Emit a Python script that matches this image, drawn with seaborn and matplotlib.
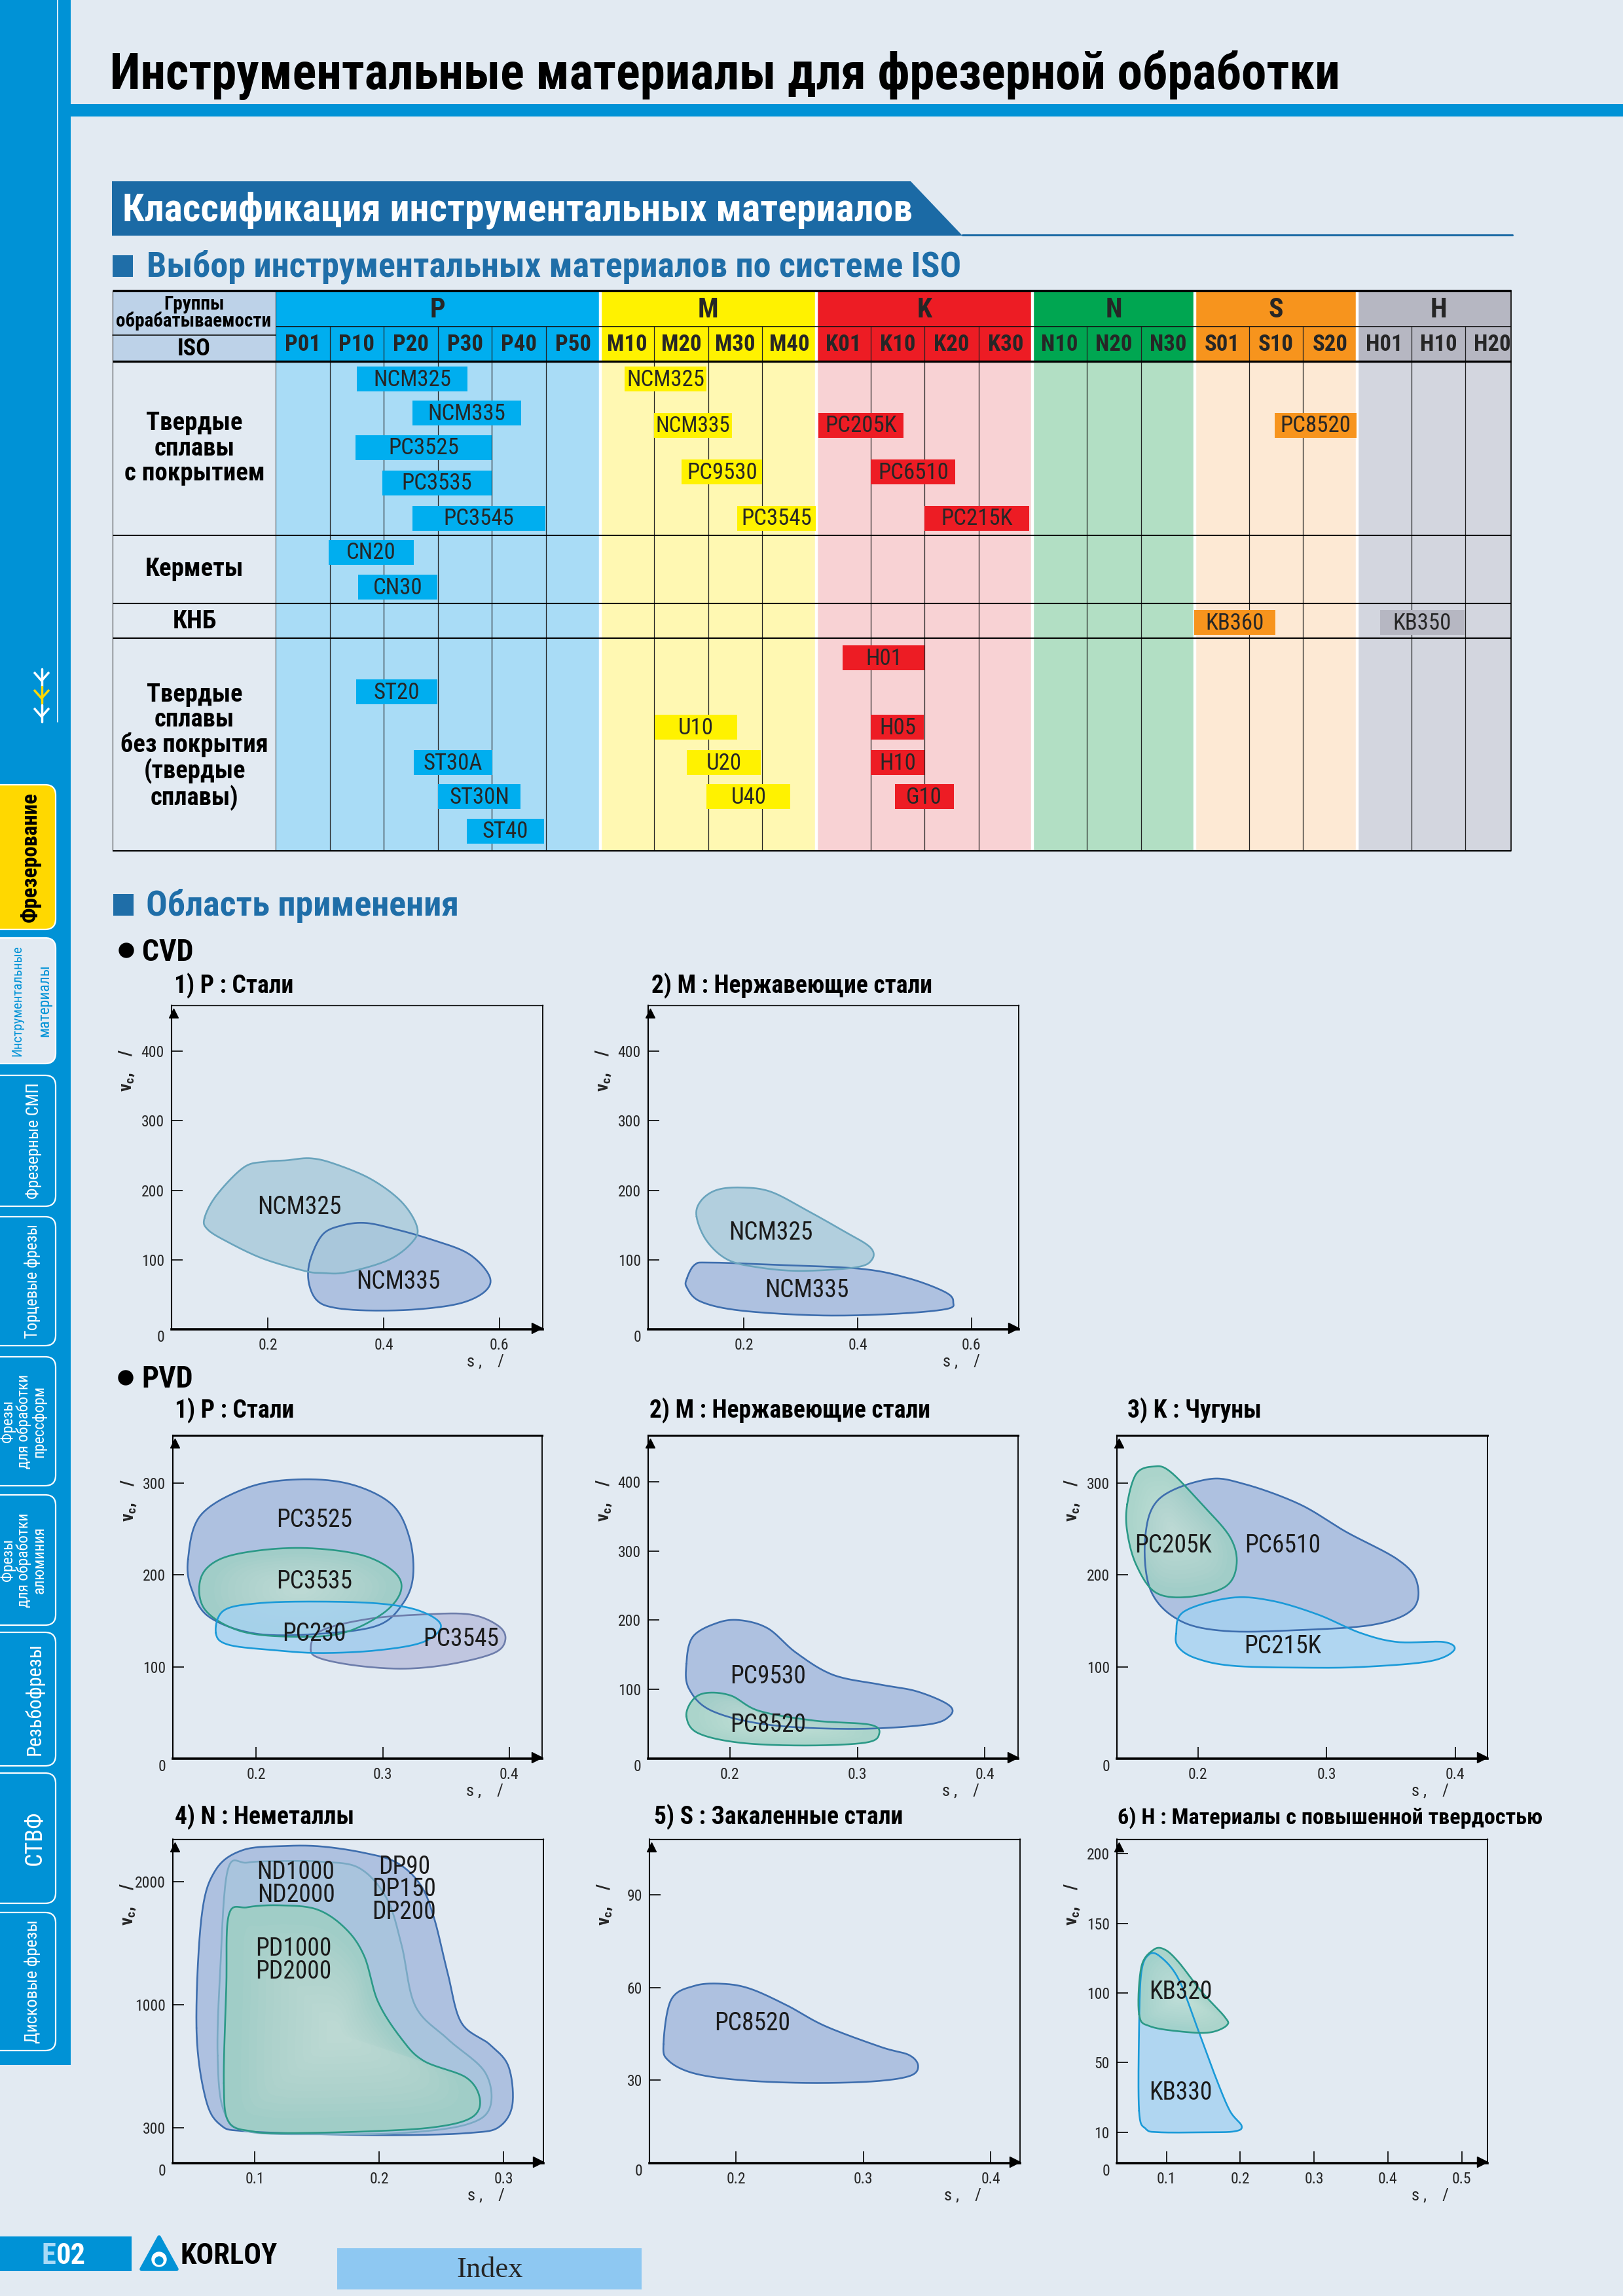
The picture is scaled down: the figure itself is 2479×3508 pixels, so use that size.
import numpy as np
import matplotlib
matplotlib.use("Agg")
import matplotlib.pyplot as plt
from matplotlib.patches import Rectangle, Polygon, FancyBboxPatch, Circle
import seaborn as sns

W, H = 2479, 3508
BG = "#e2eaf2"
SIDE = "#0092d6"
DARKBLUE = "#1b6aa5"
HEADBLUE = "#1f6ea8"

sns.set_theme(style="white")
plt.rcParams['font.family'] = ['Roboto Condensed', 'DejaVu Sans']
plt.rcParams['font.stretch'] = 'condensed'
plt.rcParams['mathtext.default'] = 'regular'

# ---------------- table data ----------------
groups = ["P", "M", "K", "N", "S", "H"]
group_sizes = [6, 4, 4, 3, 3, 3]
iso_codes = ["P01", "P10", "P20", "P30", "P40", "P50", "M10", "M20", "M30", "M40",
             "K01", "K10", "K20", "K30", "N10", "N20", "N30", "S01", "S10", "S20",
             "H01", "H10", "H20"]
group_head = {"P": "#00aeef", "M": "#fff200", "K": "#ed1c24", "N": "#00a651",
              "S": "#f7941d", "H": "#b6b7c2"}
group_body = {"P": "#a9dcf6", "M": "#fff8b2", "K": "#f8d2d4", "N": "#b2dfc4",
              "S": "#fde9d4", "H": "#d3d6df"}
row_labels = ["Твердые\nсплавы\nс покрытием", "Керметы", "КНБ",
              "Твердые\nсплавы\nбез покрытия\n(твердые\nсплавы)"]

# grade bars: name, group colour, start / end in ISO columns, lane (px below table top)
grade_names = ["NCM325", "NCM335", "PC3525", "PC3535", "PC3545",
               "NCM325", "NCM335", "PC9530", "PC3545",
               "PC205K", "PC6510", "PC215K", "PC8520",
               "CN20", "CN30", "KB360", "KB350",
               "ST20", "ST30A", "ST30N", "ST40", "U10", "U20", "U40",
               "H01", "H05", "H10", "G10"]
grade_group = ["P", "P", "P", "P", "P",
               "M", "M", "M", "M",
               "K", "K", "K", "S",
               "P", "P", "S", "H",
               "P", "P", "P", "P", "M", "M", "M",
               "K", "K", "K", "K"]
grade_start = [1.50, 2.53, 1.48, 1.97, 2.53,
               6.45, 7.00, 7.51, 8.54,
               10.04, 11.01, 12.00, 18.47,
               0.98, 1.53, 16.99, 20.42,
               1.49, 2.55, 3.00, 3.54, 7.01, 7.60, 7.97,
               10.49, 11.01, 11.01, 11.45]
grade_end = [3.55, 4.54, 4.00, 4.00, 4.99,
             7.97, 8.44, 9.00, 9.99,
             11.61, 12.57, 13.94, 19.99,
             2.55, 2.99, 18.49, 21.98,
             2.99, 4.01, 4.53, 4.96, 8.54, 8.97, 9.52,
             12.00, 11.99, 12.00, 12.54]
grade_lane = [135, 187, 240, 294, 348,
              135, 206, 277, 348,
              206, 277, 348, 206,
              400, 453, 507, 507,
              613, 721, 773, 826, 667, 721, 773,
              561, 667, 721, 773]

# ---------------- application areas (feed s, speed v) ----------------
cvd_p_ncm325_s = [0.090, 0.111, 0.158, 0.195, 0.231, 0.273, 0.315, 0.378, 0.430, 0.457,
                  0.451, 0.409, 0.336, 0.294, 0.263, 0.190, 0.127, 0.095]
cvd_p_ncm325_v = [160, 193, 233, 241, 243, 246, 238, 216, 184, 149, 127, 100, 82, 81, 84, 102, 127, 144]
cvd_p_ncm335_s = [0.273, 0.294, 0.326, 0.368, 0.420, 0.483, 0.546, 0.582, 0.577, 0.535,
                  0.462, 0.378, 0.315, 0.284, 0.270]
cvd_p_ncm335_v = [100, 136, 149, 153, 144, 129, 109, 78, 56, 38, 29, 27, 31, 42, 69]

cvd_m_ncm325_s = [0.117, 0.124, 0.151, 0.194, 0.247, 0.311, 0.374, 0.422, 0.425, 0.396,
                  0.300, 0.226, 0.172, 0.135]
cvd_m_ncm325_v = [162, 184, 200, 204, 198, 171, 142, 118, 100, 89, 84, 89, 100, 127]
cvd_m_ncm335_s = [0.100, 0.114, 0.140, 0.247, 0.406, 0.491, 0.555, 0.568, 0.555, 0.460,
                  0.332, 0.194, 0.124, 0.100]
cvd_m_ncm335_v = [73, 93, 96, 93, 87, 73, 53, 39, 29, 22, 20, 27, 40, 60]

pvd_p_pc3525_s = [0.146, 0.156, 0.193, 0.233, 0.274, 0.307, 0.321, 0.324, 0.316, 0.296,
                  0.251, 0.200, 0.163, 0.149]
pvd_p_pc3525_v = [217, 265, 295, 304, 299, 277, 241, 199, 169, 145, 136, 136, 154, 184]
pvd_p_pc3535_s = [0.156, 0.171, 0.204, 0.244, 0.285, 0.310, 0.314, 0.299, 0.266, 0.222, 0.185, 0.159]
pvd_p_pc3535_v = [196, 217, 227, 229, 221, 202, 181, 157, 136, 133, 140, 163]
pvd_p_pc230_s = [0.168, 0.174, 0.200, 0.244, 0.296, 0.329, 0.346, 0.332, 0.296, 0.251, 0.215, 0.178]
pvd_p_pc230_v = [137, 161, 169, 171, 169, 161, 145, 127, 118, 115, 118, 124]
pvd_p_pc3545_s = [0.243, 0.251, 0.288, 0.332, 0.369, 0.391, 0.397, 0.388, 0.354, 0.318, 0.281, 0.251]
pvd_p_pc3545_v = [119, 139, 152, 157, 157, 145, 130, 115, 103, 98, 101, 109]

pvd_m_pc9530_s = [0.166, 0.171, 0.190, 0.208, 0.230, 0.252, 0.281, 0.318, 0.347, 0.372,
                  0.372, 0.354, 0.296, 0.230, 0.186, 0.168]
pvd_m_pc9530_v = [137, 176, 196, 200, 188, 153, 121, 107, 97, 77, 61, 49, 43, 49, 69, 101]
pvd_m_pc8520_s = [0.166, 0.171, 0.182, 0.201, 0.223, 0.266, 0.310, 0.317, 0.306, 0.259, 0.208, 0.175]
pvd_m_pc8520_v = [61, 85, 95, 91, 69, 55, 49, 35, 23, 19, 23, 37]

pvd_k_pc6510_s = [0.159, 0.170, 0.207, 0.236, 0.279, 0.315, 0.355, 0.370, 0.367, 0.337,
                  0.279, 0.221, 0.185, 0.163]
pvd_k_pc6510_v = [241, 283, 304, 299, 277, 247, 217, 193, 163, 146, 140, 139, 151, 184]
pvd_k_pc205k_s = [0.145, 0.152, 0.165, 0.178, 0.203, 0.225, 0.230, 0.221, 0.192, 0.167, 0.152, 0.145]
pvd_k_pc205k_v = [277, 310, 318, 313, 277, 241, 211, 187, 176, 181, 211, 247]
pvd_k_pc215k_s = [0.183, 0.189, 0.225, 0.257, 0.293, 0.326, 0.355, 0.391, 0.399, 0.380,
                  0.330, 0.286, 0.228, 0.199, 0.185]
pvd_k_pc215k_v = [136, 160, 175, 172, 157, 137, 127, 127, 118, 106, 100, 99, 101, 109, 121]

pvd_n_dp_s = [0.053, 0.057, 0.068, 0.090, 0.124, 0.154, 0.188, 0.214, 0.233, 0.244, 0.255,
              0.266, 0.289, 0.304, 0.307, 0.296, 0.274, 0.229, 0.176, 0.094, 0.072, 0.060]
pvd_n_dp_v = [867, 1708, 2090, 2258, 2292, 2288, 2236, 2157, 1978, 1708, 1258,
              898, 773, 648, 430, 305, 260, 241, 243, 272, 320, 477]
pvd_n_nd_s = [0.070, 0.072, 0.078, 0.094, 0.124, 0.154, 0.184, 0.206, 0.218, 0.229, 0.255,
              0.285, 0.289, 0.270, 0.221, 0.161, 0.094, 0.075]
pvd_n_nd_v = [711, 1258, 2090, 2157, 2169, 2164, 2112, 1865, 1483, 992, 805,
              617, 417, 320, 260, 248, 272, 398]
pvd_n_pd_s = [0.075, 0.077, 0.079, 0.094, 0.120, 0.150, 0.173, 0.188, 0.199, 0.218, 0.236,
              0.270, 0.281, 0.274, 0.244, 0.191, 0.124, 0.098, 0.079]
pvd_n_pd_v = [555, 1146, 1730, 1793, 1809, 1775, 1618, 1393, 1023, 805, 680,
              586, 461, 359, 305, 272, 257, 272, 334]

pvd_s_pc8520_s = [0.143, 0.149, 0.167, 0.189, 0.211, 0.240, 0.270, 0.314, 0.336, 0.343,
                  0.336, 0.306, 0.255, 0.204, 0.167, 0.147]
pvd_s_pc8520_v = [41.6, 56, 60.5, 61.2, 59.6, 54.2, 47.5, 40.7, 38.1, 34.5,
                  31.3, 29.5, 29.0, 30, 32.2, 36.3]

pvd_h_kb330_s = [0.063, 0.063, 0.066, 0.076, 0.091, 0.116, 0.142, 0.167, 0.186, 0.202,
                 0.192, 0.154, 0.091, 0.072]
pvd_h_kb330_v = [22.3, 74.8, 114.5, 127.4, 126.4, 110.5, 74.8, 41.3, 22.3, 13.6, 10.5, 10, 10, 12]
pvd_h_kb320_s = [0.063, 0.066, 0.082, 0.097, 0.116, 0.148, 0.179, 0.182, 0.161, 0.129, 0.079]
pvd_h_kb320_v = [84.7, 118.5, 130.8, 131.4, 122.5, 100.7, 82.8, 76.8, 71.8, 71.8, 75.8]

# broken speed axes: speed value -> height on the printed axis
n_axis_v = [-3000, 0, 300, 1000, 2000, 5000]
n_axis_h = [-1260, 0, 127, 575, 1020, 2355]
s_axis_v = [-100, 0, 30, 90, 300]
s_axis_h = [-1000, 0, 300, 970, 3316]
h_axis_v = [-100, 0, 10, 50, 200, 500]
h_axis_h = [-1120, 0, 112, 365, 1122, 2637]

STYLE = {"blue": ("#a3b8dc", "#3e6eae"), "teal": ("#a8c9da", "#6aa4bd"),
         "green": ("#9fd0c3", "#2b9987"), "lblue": ("#a6d2f1", "#1a9ad8"),
         "lav": ("#b9bfdc", "#6d7dab"), "nd": ("#a9c5dd", "#7aa9c4")}
GLOW = {"green"}


def px_box(l, t, r, b):
    return [l / W, 1 - b / H, (r - l) / W, (b - t) / H]


def smooth_closed(ax, s, v, n=18):
    # Catmull-Rom through the read points, done in screen space
    pts = ax.transData.transform(np.column_stack([s, v]))
    p = np.vstack([pts[-1], pts, pts[0], pts[1]])
    t = np.linspace(0, 1, n, endpoint=False)[:, None]
    segs = []
    for i in range(1, len(pts) + 1):
        p0, p1, p2, p3 = p[i - 1], p[i], p[i + 1], p[i + 2]
        segs.append(0.5 * (2 * p1 + (-p0 + p2) * t + (2 * p0 - 5 * p1 + 4 * p2 - p3) * t ** 2
                           + (-p0 + 3 * p1 - 3 * p2 + p3) * t ** 3))
    segs.append(segs[0][:1])
    return np.vstack(segs)


fig = plt.figure(figsize=(W / 100, H / 100), dpi=100)
fig.patch.set_facecolor(BG)
renderer = fig.canvas.get_renderer()
page = fig.add_axes([0, 0, 1, 1])
page.set_xlim(0, W)
page.set_ylim(H, 0)
page.axis('off')


def fit(t, maxw, vertical=False):
    bb = t.get_window_extent(renderer)
    w = bb.height if vertical else bb.width
    if w > maxw:
        t.set_fontsize(t.get_fontsize() * maxw / w)
    return t


def T(x, y, s, size, weight='bold', color='black', ha='left', va='baseline', maxw=None, **kw):
    t = page.text(x, y, s, fontsize=size, fontweight=weight, color=color, ha=ha, va=va, **kw)
    if maxw:
        fit(t, maxw)
    return t


# ---------------- side bar ----------------
page.add_patch(Rectangle((0, 0), 108, 3155, color=SIDE, lw=0))
page.plot([88, 88], [0, 1103], color='white', lw=1.2)
for yc, col in [(1035, 'white'), (1062, '#ffd800'), (1090, 'white')]:
    page.plot([52, 63.5, 75], [yc - 8, yc + 5, yc - 8], color=col, lw=2.5, solid_capstyle='butt')
    page.plot([63.5, 63.5], [yc - 13, yc + 13], color=col, lw=2.5)

tabs = [(1199, 1420, '#ffd800', 'black', [(47, "Фрезерование", 24, 'bold')]),
        (1433, 1625, BG, SIDE, [(27, "Инструментальные", 17, 'normal'), (68, "материалы", 17, 'normal')]),
        (1643, 1843, SIDE, 'white', [(52, "Фрезерные СМП", 21, 'normal')]),
        (1859, 2056, SIDE, 'white', [(50, "Торцевые фрезы", 21, 'normal')]),
        (2073, 2270, SIDE, 'white', [(12, "Фрезы", 17, 'normal'), (36, "для обработки", 17, 'normal'),
                                     (60, "прессформ", 17, 'normal')]),
        (2284, 2483, SIDE, 'white', [(12, "Фрезы", 17, 'normal'), (36, "для обработки", 17, 'normal'),
                                     (60, "алюминия", 17, 'normal')]),
        (2494, 2698, SIDE, 'white', [(52, "Резьбофрезы", 22, 'normal')]),
        (2709, 2908, SIDE, 'white', [(52, "СТВФ", 26, 'normal')]),
        (2922, 3133, SIDE, 'white', [(50, "Дисковые фрезы", 21, 'normal')])]
for y0, y1, fc, tc, lines in tabs:
    page.add_patch(FancyBboxPatch((-30, y0), 115, y1 - y0, boxstyle="round,pad=0,rounding_size=16",
                                  fc=fc, ec='white', lw=1.6))
    for x, txt, size, wt in lines:
        t = page.text(x, (y0 + y1) / 2, txt, rotation=90, rotation_mode='anchor', ha='center',
                      va='center', fontsize=size, fontweight=wt, color=tc)
        fit(t, (y1 - y0) - 22, vertical=True)

# ---------------- headings ----------------
T(168, 136, "Инструментальные материалы для фрезерной обработки", 56, maxw=1880)
page.add_patch(Rectangle((88, 159), W - 88, 19, color=SIDE, lw=0))
page.add_patch(Polygon([(171, 277), (1391, 277), (1470, 360), (171, 360)], closed=True, color=DARKBLUE, lw=0))
page.plot([1470, 2310], [358.5, 358.5], color=DARKBLUE, lw=2.2)
T(187, 337, "Классификация инструментальных материалов", 43, color='white', maxw=1215)
page.add_patch(Rectangle((172, 390), 31, 33, color=HEADBLUE, lw=0))
T(224, 422, "Выбор инструментальных материалов по системе ISO", 39, color=HEADBLUE, maxw=1271)

# ---------------- ISO table ----------------
TL, TR, TT, TB = 421, 2308, 444, 1300
COLW = 82.6
LABW = (TL - 172) / COLW
page.add_patch(Rectangle((172, TT), TL - 172, 108, color='#bdd2e8', lw=0))
T(296, 478, "Группы\nобрабатываемости", 21, ha='center', va='center', linespacing=0.85, maxw=238)
T(296, 533, "ISO", 26, ha='center', va='center')
row_centres = [685, 870, 949, 1141]
for lab, yc in zip(row_labels, row_centres):
    T(297, yc, lab, 28, ha='center', va='center', linespacing=1.05, maxw=226)

ax_t = fig.add_axes(px_box(TL, TT, TR, TB))
xmax = (TR - TL) / COLW
ax_t.set_xlim(0, xmax)
ax_t.set_ylim(TB - TT, 0)
ax_t.axis('off')
HDR1, HDR2, BODY_END = 55, 108, TB - TT
edges = np.cumsum([0] + group_sizes)
for g, a, b in zip(groups, edges[:-1], edges[1:]):
    ax_t.add_patch(Rectangle((a, 0), b - a, HDR2, color=group_head[g], lw=0))
    ax_t.add_patch(Rectangle((a, HDR2), b - a, BODY_END - HDR2, color=group_body[g], lw=0))
    ax_t.text((a + b) / 2, HDR1 / 2 + 2, g, ha='center', va='center', fontsize=30, fontweight='bold')
for i, code in enumerate(iso_codes):
    t = ax_t.text(i + 0.5, (HDR1 + HDR2) / 2 + 1, code, ha='center', va='center', fontsize=25,
                  fontweight='bold')
    fit(t, 74)
for k in range(1, 23):
    if k in edges:
        ax_t.plot([k, k], [0, BODY_END], color='white', lw=3.2, solid_capstyle='butt')
    else:
        ax_t.plot([k, k], [HDR1, BODY_END], color='#222222', lw=0.9)
ax_t.plot([0, 0], [0, BODY_END], color='#111111', lw=1.3)
ax_t.plot([xmax, xmax], [0, BODY_END], color='#111111', lw=1.3, clip_on=False)
ax_t.plot([-LABW, -LABW], [0, BODY_END], color='#333333', lw=0.8, clip_on=False)
ax_t.plot([0, xmax], [HDR1, HDR1], color='#111111', lw=1.2)
ax_t.plot([-LABW, 0], [68, 68], color='#111111', lw=1.2, clip_on=False)
for yy, lw in [(0, 2.4), (HDR2, 2.4), (374, 1.5), (478, 1.5), (531, 1.5), (BODY_END, 1.5)]:
    ax_t.plot([-LABW, xmax], [yy, yy], color='black', lw=lw, clip_on=False, solid_capstyle='butt')

ax_t.barh(grade_lane, np.subtract(grade_end, grade_start), left=grade_start, height=38,
          color=[group_head[g] for g in grade_group], lw=0, zorder=3)
for nm, a, b, y in zip(grade_names, grade_start, grade_end, grade_lane):
    t = ax_t.text((a + b) / 2, y + 1, nm, ha='center', va='center', fontsize=25, zorder=4)
    fit(t, (b - a) * COLW - 5)

# ---------------- application area section ----------------
page.add_patch(Rectangle((173, 1366), 31, 33, color=HEADBLUE, lw=0))
T(223, 1399, "Область применения", 39, color=HEADBLUE, maxw=492)
page.add_patch(Circle((193, 1452), 11, color='black'))
T(217, 1468, "CVD", 33)
page.add_patch(Circle((192, 2105), 11, color='black'))
T(216, 2120, "PVD", 33)

charts = [
    dict(box=(262, 1536, 829, 2031), xlim=(0.033, 0.675), ylim=(0, 466),
         xt=[0.2, 0.4, 0.6], yt=[100, 200, 300, 400], scale=None, thick_top=False,
         title="1) P : Стали", tpos=(266, 1517),
         blobs=[(cvd_p_ncm335_s, cvd_p_ncm335_v, "blue"), (cvd_p_ncm325_s, cvd_p_ncm325_v, "teal")],
         labels=[("NCM325", 0.254, 176), ("NCM335", 0.425, 68)]),
    dict(box=(990, 1536, 1556, 2031), xlim=(0.032, 0.683), ylim=(0, 466),
         xt=[0.2, 0.4, 0.6], yt=[100, 200, 300, 400], scale=None, thick_top=False,
         title="2) M : Нержавеющие стали", tpos=(995, 1517),
         blobs=[(cvd_m_ncm335_s, cvd_m_ncm335_v, "blue"), (cvd_m_ncm325_s, cvd_m_ncm325_v, "teal")],
         labels=[("NCM325", 0.247, 139), ("NCM335", 0.311, 56)]),
    dict(box=(264, 2193, 828, 2687), xlim=(0.134, 0.426), ylim=(0, 352),
         xt=[0.2, 0.3, 0.4], yt=[100, 200, 300], scale=None, thick_top=True,
         title="1) P : Стали", tpos=(267, 2166),
         blobs=[(pvd_p_pc3525_s, pvd_p_pc3525_v, "blue"), (pvd_p_pc3545_s, pvd_p_pc3545_v, "lav"),
                (pvd_p_pc3535_s, pvd_p_pc3535_v, "green"), (pvd_p_pc230_s, pvd_p_pc230_v, "lblue")],
         labels=[("PC3525", 0.246, 260), ("PC3535", 0.246, 193), ("PC230", 0.246, 136),
                 ("PC3545", 0.362, 130)]),
    dict(box=(990, 2193, 1555, 2687), xlim=(0.136, 0.426), ylim=(0, 467),
         xt=[0.2, 0.3, 0.4], yt=[100, 200, 300, 400], scale=None, thick_top=True,
         title="2) M : Нержавеющие стали", tpos=(992, 2166),
         blobs=[(pvd_m_pc9530_s, pvd_m_pc9530_v, "blue"), (pvd_m_pc8520_s, pvd_m_pc8520_v, "green")],
         labels=[("PC9530", 0.230, 119), ("PC8520", 0.230, 49)]),
    dict(box=(1706, 2193, 2272, 2687), xlim=(0.137, 0.425), ylim=(0, 352),
         xt=[0.2, 0.3, 0.4], yt=[100, 200, 300], scale=None, thick_top=True,
         title="3) K : Чугуны", tpos=(1722, 2166),
         blobs=[(pvd_k_pc6510_s, pvd_k_pc6510_v, "blue"), (pvd_k_pc205k_s, pvd_k_pc205k_v, "green"),
                (pvd_k_pc215k_s, pvd_k_pc215k_v, "lblue")],
         labels=[("PC205K", 0.181, 232), ("PC6510", 0.266, 232), ("PC215K", 0.266, 122)]),
    dict(box=(264, 2810, 830, 3305), xlim=(0.034, 0.332), ylim=(0, 2348),
         xt=[0.1, 0.2, 0.3], yt=[300, 1000, 2000], scale=(n_axis_v, n_axis_h), thick_top=False,
         title="4) N : Неметаллы", tpos=(267, 2787),
         blobs=[(pvd_n_dp_s, pvd_n_dp_v, "blue"), (pvd_n_nd_s, pvd_n_nd_v, "nd"),
                (pvd_n_pd_s, pvd_n_pd_v, "green")],
         labels=[("ND1000\nND2000", 0.133, 1984), ("DP90\nDP150\nDP200", 0.220, 1939),
                 ("PD1000\nPD2000", 0.131, 1360)]),
    dict(box=(992, 2810, 1558, 3305), xlim=(0.132, 0.423), ylim=(0, 108),
         xt=[0.2, 0.3, 0.4], yt=[30, 60, 90], scale=(s_axis_v, s_axis_h), thick_top=False,
         title="5) S : Закаленные стали", tpos=(999, 2787),
         blobs=[(pvd_s_pc8520_s, pvd_s_pc8520_v, "blue")],
         labels=[("PC8520", 0.213, 48.4)]),
    dict(box=(1706, 2810, 2272, 3305), xlim=(0.033, 0.535), ylim=(0, 210.5),
         xt=[0.1, 0.2, 0.3, 0.4, 0.5], yt=[10, 50, 100, 150, 200], scale=(h_axis_v, h_axis_h),
         thick_top=False, title="6) H : Материалы с повышенной твердостью", tpos=(1707, 2787),
         blobs=[(pvd_h_kb330_s, pvd_h_kb330_v, "lblue"), (pvd_h_kb320_s, pvd_h_kb320_v, "green")],
         labels=[("KB320", 0.119, 100.7), ("KB330", 0.119, 32.6)]),
]

for c in charts:
    T(c["tpos"][0], c["tpos"][1], c["title"], 27, maxw=650)
    ax = fig.add_axes(px_box(*c["box"]))
    if c["scale"] is not None:
        vk, hk = c["scale"]
        ax.set_yscale('function', functions=(lambda v, vk=vk, hk=hk: np.interp(v, vk, hk),
                                             lambda h, vk=vk, hk=hk: np.interp(h, hk, vk)))
    ax.set_xlim(*c["xlim"])
    ax.set_ylim(*c["ylim"])
    ax.set_facecolor(BG)
    inv = ax.transData.inverted()
    for s_, v_, st in c["blobs"]:
        fc, ec = STYLE[st]
        curve = smooth_closed(ax, s_, v_)
        xs, ys = inv.transform(curve).T
        ax.fill(xs, ys, color=fc, alpha=0.82, lw=0)
        if st in GLOW:
            # soft light centre, as printed
            ctr = curve.mean(axis=0)
            for f in np.linspace(0.85, 0.1, 12):
                gx, gy = inv.transform(ctr + (curve - ctr) * f).T
                ax.fill(gx, gy, color='white', alpha=0.035, lw=0)
        sns.lineplot(x=xs, y=ys, sort=False, estimator=None, color=ec, lw=1.9, ax=ax)
    for txt, lx, ly in c["labels"]:
        ax.text(lx, ly, txt, ha='center', va='center', fontsize=27, color='#1a1a1a',
                linespacing=0.92, zorder=5)
    ax.set_xticks(c["xt"])
    ax.set_xticklabels([f"{t:.1f}" for t in c["xt"]])
    ax.set_yticks(c["yt"])
    ax.set_yticklabels([str(t) for t in c["yt"]])
    ax.set_xlabel("")
    ax.set_ylabel("")
    ax.tick_params(axis='x', bottom=True, direction='in', length=13, width=1.2, color='black',
                   pad=9, labelsize=17)
    ax.tick_params(axis='y', left=True, direction='in', length=12, width=1.2, color='black',
                   pad=8, labelsize=17)
    ax.spines['bottom'].set_linewidth(2.6)
    ax.spines['left'].set_linewidth(1.5)
    ax.spines['top'].set_linewidth(2.2 if c["thick_top"] else 1.0)
    ax.spines['right'].set_linewidth(1.3)
    for sp in ax.spines.values():
        sp.set_color('black')
    ax.plot(0.985, 0.004, marker='>', color='black', ms=12, transform=ax.transAxes, clip_on=False)
    ax.plot(0.006, 0.975, marker='^', color='black', ms=10, transform=ax.transAxes, clip_on=False)
    ax.annotate("0", xy=(0, 0), xycoords='axes fraction', xytext=(-8, -1), textcoords='offset points',
                ha='right', va='top', fontsize=17)
    ax.text(-0.12, 0.8, "v$_c$,    /", transform=ax.transAxes, rotation=90, ha='center',
            va='center', fontsize=20, fontweight='bold')
    ax.text(0.845, -0.1, "s ,    /", transform=ax.transAxes, ha='center', va='center', fontsize=19)

# ---------------- footer ----------------
page.add_patch(Rectangle((0, 3417), 201, 53, color=SIDE, lw=0))
e_txt = T(63, 3459, "E", 32, color='#a8daf7')
e_right = e_txt.get_window_extent(renderer).x1
T(e_right + 1, 3459, "02", 32, color='white')
page.add_patch(Polygon([(243, 3418), (270, 3467), (216, 3467)], closed=True, fc=SIDE, ec=SIDE,
                       lw=4, joinstyle='round'))
page.add_patch(Circle((243, 3452), 11, color='white'))
page.add_patch(Circle((243, 3454), 6, color=SIDE))
T(276, 3459, "KORLOY", 32, color='black', maxw=168)
page.add_patch(Rectangle((515, 3435), 465, 63, color='#8ec8f2', lw=0))
page.text(748, 3468, "Index", fontsize=32, ha='center', va='center',
          family=['Liberation Serif', 'DejaVu Serif'])

fig.savefig("out.png", dpi=100, facecolor=BG)
